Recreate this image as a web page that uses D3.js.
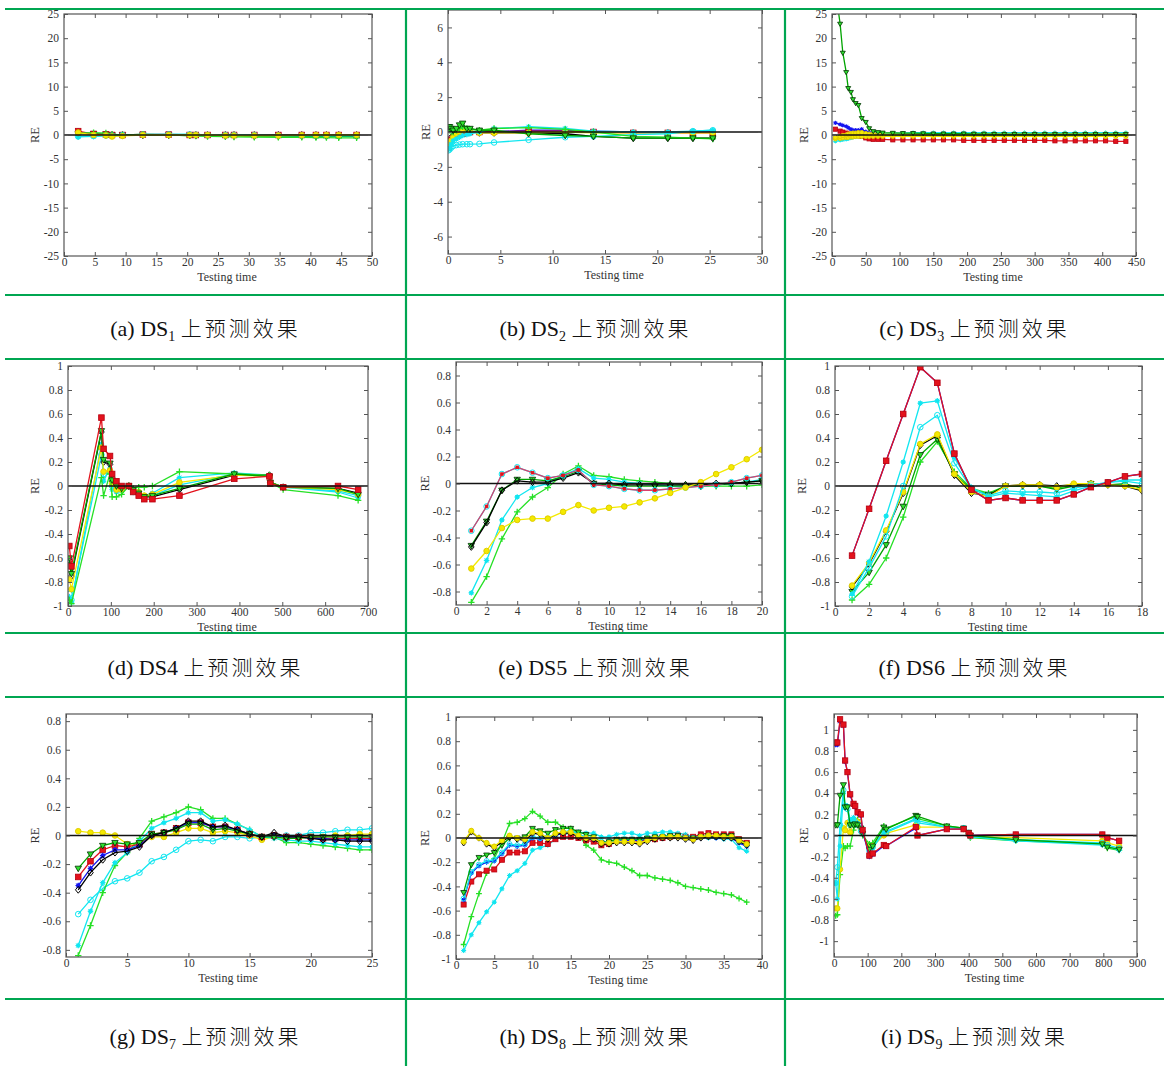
<!DOCTYPE html>
<html><head><meta charset="utf-8">
<script src="https://cdn.jsdelivr.net/npm/d3@7"></script>
<style>
html,body{margin:0;padding:0;background:#fff;}
svg{display:block;}
</style></head>
<body>
<svg id="c" width="1168" height="1066"></svg>
<script>
// ---------------- DATA ----------------
// (a) DS1
const a_x = [2.3,4.8,6.8,7.8,9.5,12.8,17.0,20.4,21.4,23.3,26.2,27.6,30.9,34.8,38.6,40.9,42.6,44.6,47.5];
const a_dkgreen = [0.3,0.3,0.2,0,0,0,0,-0.1,-0.1,-0.1,-0.2,-0.2,-0.3,-0.3,-0.3,-0.3,-0.3,-0.3,-0.3];
const a_black = [0.6,0.2,0,0,0,0,0,0,0,0,0,0,0,0,0,0,0,0,0];
const a_red = [0.8,0.2,0.1,0,0,0.1,0.1,0,0,0,0,0,0,0,0,0,0,0,0];
const a_cyano = [-0.3,-0.2,-0.1,-0.1,0,0.1,0.1,0.1,0,0,0,0,0,-0.1,-0.1,-0.1,-0.1,-0.1,-0.1];
const a_cyanstar = [-0.4,-0.3,-0.2,-0.2,-0.1,0.1,0.1,0.1,0.1,0,0,0,-0.1,-0.1,-0.1,-0.1,-0.1,-0.1,-0.1];
const a_lime = [0.4,0.5,0.4,0.1,0,0.1,0,-0.1,-0.2,-0.3,-0.35,-0.4,-0.45,-0.5,-0.5,-0.55,-0.55,-0.6,-0.6];
const a_yellow = [0.5,0,-0.1,-0.3,-0.2,0,0,0,0,0,-0.1,-0.1,-0.1,-0.1,-0.05,0,0,0,0];
const a_xticks = [0,5,10,15,20,25,30,35,40,45,50];
const a_yticks = [-25,-20,-15,-10,-5,0,5,10,15,20,25];

// (b) DS2
const b_x = [0.05,0.15,0.3,0.5,0.8,1.1,1.4,1.8,2.1,3.0,4.4,7.7,11.2,13.9,17.7,21.0,23.4,25.3];
const b_black = [-0.6,-0.5,-0.3,-0.2,-0.1,-0.05,0,0,0,-0.05,-0.05,-0.05,-0.1,-0.25,-0.35,-0.35,-0.35,-0.35];
const b_red = [-0.9,-0.6,-0.45,-0.3,-0.2,-0.15,-0.1,-0.05,0,0,0.02,0.05,0.05,0,-0.05,-0.05,-0.05,-0.05];
const b_blue = [-0.8,-0.55,-0.4,-0.25,-0.15,-0.1,-0.05,0,0,0,0.02,0.1,0.1,0.05,0,0,0,0];
const b_yellow = [-0.9,-0.7,-0.5,-0.3,-0.1,0,0.1,0.05,0,-0.05,-0.05,-0.05,0,-0.05,-0.05,-0.05,-0.05,-0.05];
const b_cyano = [-1.05,-1.0,-0.9,-0.8,-0.75,-0.72,-0.7,-0.7,-0.7,-0.68,-0.6,-0.45,-0.3,-0.25,-0.15,-0.1,0.05,0.1];
const b_cyanstar = [-1.0,-0.9,-0.7,-0.5,-0.4,-0.3,-0.2,-0.15,-0.1,0,0.2,0.3,0.2,0.05,0,0,0.05,0.1];
const b_lime = [0.2,0.1,0,0,0.1,0.2,0.3,0.2,0.15,0.1,0.2,0.25,0.15,0,-0.25,-0.3,-0.35,-0.4];
const b_dkgreen = [0.3,0.3,0.2,0.1,0.2,0.4,0.5,0.2,0.2,0.1,0.1,-0.1,-0.2,-0.25,-0.35,-0.35,-0.35,-0.35];
const b_xticks = [0,5,10,15,20,25,30];
const b_yticks = [-6,-4,-2,0,2,4,6];

// (c) DS3
const c_x = [5,12,16,21,24,28,31,35,39,44,50,55,61,68,75,90,105,120,135,150,165,180,195,210,225,240,255,270,285,300,315,330,345,360,375,390,405,420,435];
const c_red = [1.2,0.8,0.6,0.4,0.2,0.1,0,0,-0.1,-0.3,-0.6,-0.8,-0.9,-0.9,-0.9,-1,-1,-1,-1,-1,-1,-1,-1.1,-1.1,-1.1,-1.1,-1.1,-1.1,-1.1,-1.1,-1.1,-1.2,-1.2,-1.2,-1.2,-1.2,-1.2,-1.3,-1.3];
const c_blue = [2.5,2.2,2,1.8,1.5,1.2,1,1,1,1.2,0.7,0.5,0.4,0.3,0.3,0.2,0.2,0.2,0.1,0.1,0.1,0.1,0.1,0,0,0,0,0,0,0,0,0,0,0,0,0,0,0,0];
const c_lime = [-0.8,-0.7,-0.6,-0.5,-0.4,-0.4,-0.3,-0.3,-0.2,-0.2,-0.2,-0.1,-0.1,-0.1,-0.05,-0.05,-0.05,-0.05,-0.05,-0.05,-0.05,-0.05,-0.05,-0.05,-0.05,-0.05,-0.05,-0.05,-0.05,-0.05,-0.05,-0.05,-0.05,-0.05,-0.05,-0.05,-0.05,-0.05,-0.05];
const c_cyanstar = [-1.3,-1.1,-1,-0.9,-0.8,-0.6,-0.5,-0.4,-0.3,-0.3,-0.2,0,0.1,0.2,0.3,0.4,0.4,0.5,0.5,0.5,0.5,0.5,0.5,0.5,0.5,0.5,0.5,0.5,0.5,0.5,0.5,0.5,0.5,0.5,0.5,0.5,0.5,0.5,0.5];
const c_yellow2 = [-0.8,-0.7,-0.6,-0.5,-0.5,-0.4,-0.4,-0.3,-0.3,-0.3,-0.3,-0.3,-0.3,-0.3,-0.3,-0.3,-0.3,-0.3,-0.3,-0.3,-0.3,-0.3,-0.3,-0.3,-0.3,-0.3,-0.3,-0.3,-0.3,-0.3,-0.3,-0.3,-0.3,-0.3,-0.3,-0.3,-0.3,-0.3,-0.3];
const c_yellow = [-0.5,-0.3,-0.1,0,0.2,0.3,0.4,0.4,0.5,0.5,0.3,0.2,0.2,0.2,0.2,0.2,0.2,0.2,0.2,0.2,0.2,0.2,0.2,0.2,0.2,0.2,0.2,0.2,0.2,0.2,0.2,0.2,0.2,0.2,0.2,0.2,0.2,0.2,0.2];
const c_dkgreen = [30,23,17,13,9.7,8.9,7.4,6.6,6.2,3.5,2.7,1.4,0.8,0.6,0.5,0.45,0.4,0.4,0.35,0.3,0.3,0.3,0.3,0.25,0.25,0.2,0.2,0.2,0.2,0.2,0.2,0.2,0.2,0.2,0.2,0.2,0.2,0.2,0.2];
const c_xticks = [0,50,100,150,200,250,300,350,400,450];
const c_yticks = [-25,-20,-15,-10,-5,0,5,10,15,20,25];

// (d) DS4
const d_x = [3,8,78,83,98,103,113,125,142,152,165,178,197,260,388,470,472,502,630,677];
const d_cyano = [-0.9,-0.95,0.26,0.1,0.12,0,-0.02,-0.03,0,-0.05,-0.06,-0.09,-0.08,0.01,0.1,0.08,0.03,-0.01,-0.04,-0.08];
const d_cyanstar = [-0.93,-0.97,0.35,0.04,0.15,-0.03,-0.05,-0.04,0,-0.04,-0.07,-0.08,-0.06,0.07,0.11,0.09,0.03,-0.01,-0.05,-0.1];
const d_black = [-0.62,-0.75,0.45,0.2,0.18,0.04,0,-0.02,0,-0.03,-0.06,-0.09,-0.09,-0.03,0.09,0.09,0.03,-0.01,-0.02,-0.06];
const d_yellow = [-0.78,-0.86,0.32,0.12,0.13,0.02,-0.03,-0.03,0,-0.04,-0.05,-0.08,-0.07,0.03,0.09,0.08,0.03,-0.01,-0.03,-0.07];
const d_lime = [-0.95,-0.98,0.07,-0.08,0.1,-0.09,-0.09,-0.07,0,-0.02,-0.01,-0.01,0,0.12,0.1,0.09,0.03,-0.03,-0.08,-0.12];
const d_dkgreen = [-0.6,-0.73,0.46,0.22,0.19,0.05,0,-0.02,0,-0.03,-0.06,-0.09,-0.08,-0.02,0.1,0.08,0.03,-0.01,-0.02,-0.07];
const d_red = [-0.5,-0.67,0.57,0.31,0.25,0.1,0.04,0,0,-0.05,-0.08,-0.11,-0.11,-0.08,0.06,0.08,0.02,-0.01,0,-0.03];
const d_xticks = [0,100,200,300,400,500,600,700];
const d_yticks = [-1,-0.8,-0.6,-0.4,-0.2,0,0.2,0.4,0.6,0.8,1];

// (e) DS5
const e_x = [1,2,3,4,5,6,7,8,9,10,11,12,13,14,15,16,17,18,19,20];
const e_lime = [-0.88,-0.69,-0.41,-0.21,-0.1,-0.03,0.07,0.13,0.06,0.05,0.03,0.02,0.01,0,-0.01,-0.02,-0.02,-0.02,-0.02,-0.01];
const e_cyanstar = [-0.81,-0.57,-0.27,-0.1,-0.03,0,0.06,0.11,0.04,0.03,0.01,0,-0.01,-0.02,-0.02,-0.02,-0.01,0,0.01,0.03];
const e_dkgreen = [-0.46,-0.28,-0.05,0.03,0.03,0.02,0.05,0.09,0,-0.01,-0.02,-0.02,-0.02,-0.02,-0.02,-0.02,-0.01,0,0.01,0.02];
const e_black = [-0.47,-0.29,-0.05,0.02,0.01,0.01,0.04,0.08,0,0,-0.01,-0.01,-0.01,-0.01,-0.01,-0.01,0,0,0.01,0.02];
const e_cyano = [-0.35,-0.17,0.07,0.12,0.08,0.04,0.06,0.1,-0.01,-0.02,-0.04,-0.05,-0.05,-0.04,-0.03,-0.02,-0.01,0.01,0.04,0.06];
const e_red = [-0.35,-0.17,0.07,0.12,0.08,0.04,0.06,0.1,-0.01,-0.02,-0.04,-0.05,-0.05,-0.04,-0.03,-0.02,-0.01,0.01,0.04,0.06];
const e_yellow = [-0.63,-0.5,-0.33,-0.27,-0.26,-0.26,-0.21,-0.16,-0.2,-0.18,-0.17,-0.14,-0.11,-0.07,-0.03,0.01,0.07,0.12,0.18,0.25];
const e_xticks = [0,2,4,6,8,10,12,14,16,18,20];
const e_yticks = [-0.8,-0.6,-0.4,-0.2,0,0.2,0.4,0.6,0.8];

// (f) DS6
const f_x = [1,2,3,4,5,6,7,8,9,10,11,12,13,14,15,16,17,18];
const f_lime = [-0.95,-0.82,-0.6,-0.26,0.2,0.37,0.12,-0.02,-0.06,0,0,0,-0.02,0.01,0.02,0.01,0.01,-0.01];
const f_dkgreen = [-0.88,-0.72,-0.49,-0.17,0.26,0.39,0.1,-0.03,-0.07,0,0,0,-0.03,0,0.02,0.01,0.02,-0.02];
const f_black = [-0.84,-0.65,-0.38,-0.06,0.34,0.42,0.09,-0.06,-0.08,0,0.01,0.01,0,0.01,0.02,0.01,0,-0.04];
const f_yellow = [-0.83,-0.64,-0.37,-0.05,0.35,0.43,0.1,-0.05,-0.09,0,0.01,0.01,-0.01,0.02,0.02,0.01,0,-0.03];
const f_cyano = [-0.92,-0.68,-0.42,0,0.49,0.59,0.19,-0.02,-0.08,-0.04,-0.05,-0.05,-0.06,-0.02,0.01,0.03,0.04,0.02];
const f_cyanstar = [-0.9,-0.63,-0.25,0.2,0.69,0.71,0.24,-0.01,-0.09,-0.06,-0.07,-0.08,-0.09,-0.04,0,0.03,0.05,0.05];
const f_blue = [-0.58,-0.19,0.21,0.6,0.99,0.86,0.27,-0.03,-0.12,-0.1,-0.12,-0.12,-0.12,-0.07,-0.01,0.03,0.08,0.1];
const f_red = [-0.58,-0.19,0.21,0.6,0.99,0.86,0.27,-0.03,-0.12,-0.1,-0.12,-0.12,-0.12,-0.07,-0.01,0.03,0.08,0.1];
const f_xticks = [0,2,4,6,8,10,12,14,16,18];
const f_yticks = [-1,-0.8,-0.6,-0.4,-0.2,0,0.2,0.4,0.6,0.8,1];

// (g) DS7
const g_x = [1,2,3,4,5,6,7,8,9,10,11,12,13,14,15,16,17,18,19,20,21,22,23,24,25];
const g_cyano = [-0.55,-0.45,-0.37,-0.32,-0.3,-0.26,-0.18,-0.15,-0.1,-0.04,-0.03,-0.04,-0.01,-0.01,-0.02,-0.01,-0.01,0,0,0.02,0.02,0.03,0.04,0.04,0.05];
const g_yellow = [0.03,0.02,0.02,0,-0.06,-0.06,-0.01,-0.01,0.02,0.05,0.05,0.02,0.03,0.02,0,-0.03,-0.01,-0.02,-0.02,-0.01,-0.01,0,0,0.01,0.01];
const g_lime = [-0.84,-0.63,-0.4,-0.21,-0.12,-0.02,0.1,0.13,0.16,0.2,0.18,0.12,0.12,0.08,0.04,-0.01,-0.01,-0.05,-0.05,-0.06,-0.07,-0.08,-0.09,-0.1,-0.1];
const g_cyanstar = [-0.77,-0.53,-0.33,-0.19,-0.12,-0.04,0.05,0.09,0.12,0.16,0.16,0.1,0.11,0.08,0.04,-0.01,-0.02,-0.03,-0.04,-0.04,-0.05,-0.06,-0.07,-0.08,-0.08];
const g_red = [-0.29,-0.18,-0.1,-0.07,-0.08,-0.06,0.01,0.02,0.05,0.09,0.09,0.06,0.06,0.04,0.01,-0.01,0,-0.01,-0.01,-0.01,-0.02,-0.02,-0.02,-0.02,-0.02];
const g_blue = [-0.35,-0.23,-0.14,-0.1,-0.1,-0.07,0,0.02,0.05,0.09,0.09,0.06,0.06,0.04,0.01,-0.01,0,-0.01,-0.01,-0.02,-0.02,-0.03,-0.03,-0.03,-0.03];
const g_black = [-0.38,-0.26,-0.17,-0.12,-0.11,-0.08,0,0.02,0.05,0.1,0.1,0.06,0.07,0.04,0.01,-0.01,0.02,-0.01,-0.01,-0.02,-0.03,-0.03,-0.04,-0.04,-0.04];
const g_dkgreen = [-0.23,-0.13,-0.07,-0.05,-0.06,-0.05,0.01,0.02,0.04,0.08,0.08,0.04,0.05,0.03,0.01,-0.01,-0.01,-0.02,-0.02,-0.01,-0.01,-0.01,-0.01,-0.01,-0.01];
const g_xticks = [0,5,10,15,20,25];
const g_yticks = [-0.8,-0.6,-0.4,-0.2,0,0.2,0.4,0.6,0.8];

// (h) DS8
const h_x = [1,2,3,4,5,6,7,8,9,10,11,12,13,14,15,16,17,18,19,20,21,22,23,24,25,26,27,28,29,30,31,32,33,34,35,36,37,38];
const h_lime = [-0.88,-0.65,-0.46,-0.29,-0.17,-0.04,0.12,0.13,0.16,0.22,0.18,0.13,0.13,0.09,0.08,0.03,-0.06,-0.1,-0.18,-0.2,-0.21,-0.24,-0.27,-0.31,-0.31,-0.33,-0.34,-0.35,-0.37,-0.4,-0.41,-0.42,-0.43,-0.45,-0.46,-0.47,-0.5,-0.53];
const h_cyanstar = [-0.93,-0.8,-0.7,-0.61,-0.53,-0.42,-0.31,-0.27,-0.21,-0.1,-0.08,-0.06,-0.01,0.02,0.05,0.05,0.04,0.04,0.01,0.01,0.03,0.04,0.04,0.02,0.04,0.04,0.05,0.05,0.04,0.03,0.01,0.01,0,0,-0.01,-0.01,-0.08,-0.11];
const h_red = [-0.55,-0.36,-0.3,-0.27,-0.26,-0.18,-0.12,-0.12,-0.11,-0.04,-0.04,-0.05,-0.01,0.01,0.01,0,-0.02,-0.03,-0.06,-0.05,-0.02,-0.02,-0.02,-0.03,-0.01,-0.01,0,0.01,0.02,0.01,0.01,0.03,0.04,0.03,0.03,0.03,-0.01,-0.04];
const h_blue = [-0.51,-0.29,-0.23,-0.2,-0.19,-0.13,-0.06,-0.07,-0.06,0,-0.01,0,0.02,0.04,0.05,0.02,0,-0.01,-0.04,-0.04,-0.03,-0.02,-0.02,-0.02,-0.01,0,0.01,0.01,0.01,0,-0.01,0,0.01,0,0,0,-0.04,-0.07];
const h_cyano = [-0.5,-0.28,-0.22,-0.19,-0.18,-0.12,-0.05,-0.06,-0.05,0.01,0,0.01,0.03,0.05,0.06,0.03,0.01,0,-0.03,-0.03,-0.02,-0.01,-0.01,-0.01,0,0.01,0.02,0.02,0.02,0.01,0,0.01,0.02,0.01,0.01,0.01,-0.03,-0.06];
const h_dkgreen = [-0.45,-0.22,-0.16,-0.14,-0.12,-0.06,0,0,0.01,0.08,0.06,0.04,0.07,0.08,0.08,0.05,0.03,0.01,-0.04,-0.03,-0.01,-0.01,-0.01,-0.01,0,0.01,0.01,0.02,0.02,0,0,0.01,0.02,0.02,0.02,0.02,-0.01,-0.05];
const h_black = [-0.04,0.05,0,-0.05,-0.08,-0.03,0.01,-0.01,-0.02,0.04,0.03,-0.01,0.03,0.04,0.04,0.01,-0.01,-0.01,-0.05,-0.05,-0.04,-0.04,-0.04,-0.05,-0.03,-0.01,0,0,0,-0.01,-0.02,0,0.01,0.01,0,0,-0.03,-0.06];
const h_yellow = [-0.03,0.06,0,-0.04,-0.07,-0.02,0.02,0,-0.01,0.05,0.04,0,0.04,0.05,0.05,0.02,0,0,-0.04,-0.04,-0.03,-0.03,-0.03,-0.04,-0.02,0,0.01,0.01,0.01,0,-0.01,0.01,0.02,0.02,0.01,0.01,-0.02,-0.05];
const h_xticks = [0,5,10,15,20,25,30,35,40];
const h_yticks = [-1,-0.8,-0.6,-0.4,-0.2,0,0.2,0.4,0.6,0.8,1];

// (i) DS9
const i_x = [5,10,18,28,33,40,48,58,63,70,80,85,105,115,148,155,243,248,335,385,400,405,540,797,812,847];
const i_lime = [-0.76,-0.75,-0.37,-0.1,-0.12,-0.1,-0.1,0.05,0.1,0.15,0.05,0,-0.08,-0.07,0.09,0.07,0.18,0.16,0.09,0.07,0.02,-0.02,-0.05,-0.08,-0.12,-0.14];
const i_yellow = [-0.69,-0.69,-0.32,0.07,0.05,0.12,0.03,0.13,0.14,0.13,0.06,0.02,-0.12,-0.1,0,0.02,0.1,0.08,0.08,0.06,0.02,-0.01,-0.02,-0.05,-0.07,-0.1];
const i_cyano = [-0.45,-0.3,0.1,0.43,0.28,0.25,0.1,0.15,0.13,0.1,0.04,0.02,-0.14,-0.11,0.04,0.03,0.15,0.12,0.08,0.07,0.02,-0.01,-0.04,-0.07,-0.09,-0.12];
const i_cyanstar = [-0.45,-0.6,-0.1,0.4,0.26,0.28,0.15,0.17,0.12,0.12,0.05,0.03,-0.15,-0.12,0.03,0.04,0.16,0.14,0.08,0.07,0.03,-0.01,-0.05,-0.09,-0.1,-0.14];
const i_dkgreen = [0.1,0.1,0.38,0.48,0.27,0.27,0.1,0.1,0.11,0.1,0.07,0.02,-0.13,-0.1,0.08,0.06,0.19,0.18,0.09,0.07,0.03,0,-0.04,-0.08,-0.11,-0.13];
const i_blue = [0.86,0.86,1.08,1.04,0.7,0.6,0.38,0.29,0.27,0.21,0.19,0.04,-0.2,-0.18,-0.1,-0.1,0.07,0,0.06,0.06,0.02,0,0.01,0.01,-0.02,-0.05];
const i_red = [0.88,0.88,1.1,1.05,0.71,0.6,0.39,0.3,0.28,0.22,0.2,0.05,-0.19,-0.17,-0.09,-0.1,0.08,0,0.06,0.06,0.02,0,0.01,0.01,-0.02,-0.05];
const i_xticks = [0,100,200,300,400,500,600,700,800,900];
const i_yticks = [-1,-0.8,-0.6,-0.4,-0.2,0,0.2,0.4,0.6,0.8,1];

// captions
const cap_letters = ["a","b","c","d","e","f","g","h","i"];
const cap_nums = ["1","2","3","4","5","6","7","8","9"];
const cap_sub = [true,true,true,false,false,false,true,true,true];
const cap_tail = "上预测效果";

// ---------------- STYLE ----------------
const STY = {
  red:      {stroke:'#e3121c', marker:'square',  fill:'#e3121c', ms:'#b80010'},
  redpink:  {stroke:'#d8406e', marker:'square',  fill:'#e3121c', ms:'#e3121c', size:1.3},
  blue:     {stroke:'#1414f0', marker:'star',    fill:'#1414f0', ms:'#1414f0'},
  black:    {stroke:'#000000', marker:'diamond', fill:'none',    ms:'#000'},
  dkgreen:  {stroke:'#00a400', marker:'tridown', fill:'#2ee02e', ms:'#003000'},
  lime:     {stroke:'#25e025', marker:'plus',    fill:'none',    ms:'#25e025'},
  cyanstar: {stroke:'#12e6f0', marker:'star',    fill:'#12e6f0', ms:'#12e6f0'},
  cyano:    {stroke:'#12e6f0', marker:'circle',  fill:'none',    ms:'#12e6f0'},
  yellow:   {stroke:'#f4ea00', marker:'circle',  fill:'#f4ea00', ms:'#e0cc00'},
  yellow2:  {stroke:'#f4ea00', marker:'circle',  fill:'#f4ea00', ms:'#e0cc00'}
};

const panels = [
  {box:[64,14,372,256],  xd:[0,50],  yd:[-25,25],   xt:a_xticks, yt:a_yticks, re:29, mk:1,
   series:[['dkgreen',a_x,a_dkgreen],['black',a_x,a_black],['red',a_x,a_red],['cyano',a_x,a_cyano],['cyanstar',a_x,a_cyanstar],['lime',a_x,a_lime],['yellow',a_x,a_yellow]]},
  {box:[448,10,762,254], xd:[0,30],  yd:[-7,7],     xt:b_xticks, yt:b_yticks, re:22, mk:1,
   series:[['black',b_x,b_black],['blue',b_x,b_blue],['red',b_x,b_red],['yellow',b_x,b_yellow],['cyano',b_x,b_cyano],['cyanstar',b_x,b_cyanstar],['lime',b_x,b_lime],['dkgreen',b_x,b_dkgreen]]},
  {box:[832,14,1136,256],xd:[0,450], yd:[-25,25],   xt:c_xticks, yt:c_yticks, re:28, mk:0.75,
   series:[['red',c_x,c_red],['blue',c_x,c_blue],['lime',c_x,c_lime],['cyanstar',c_x,c_cyanstar],['yellow2',c_x,c_yellow2],['yellow',c_x,c_yellow],['dkgreen',c_x,c_dkgreen]]},
  {box:[68,366,368,606], xd:[0,700], yd:[-1,1],     xt:d_xticks, yt:d_yticks, re:33, mk:1,
   series:[['cyano',d_x,d_cyano],['cyanstar',d_x,d_cyanstar],['black',d_x,d_black],['yellow',d_x,d_yellow],['lime',d_x,d_lime],['dkgreen',d_x,d_dkgreen],['red',d_x,d_red]]},
  {box:[456,362,762,605],xd:[0,20],  yd:[-0.9,0.9], xt:e_xticks, yt:e_yticks, re:31, mk:1,
   series:[['lime',e_x,e_lime],['cyanstar',e_x,e_cyanstar],['dkgreen',e_x,e_dkgreen],['black',e_x,e_black],['cyano',e_x,e_cyano],['redpink',e_x,e_red],['yellow',e_x,e_yellow]]},
  {box:[835,366,1142,606],xd:[0,18], yd:[-1,1],     xt:f_xticks, yt:f_yticks, re:33, mk:1,
   series:[['lime',f_x,f_lime],['dkgreen',f_x,f_dkgreen],['black',f_x,f_black],['yellow',f_x,f_yellow],['cyano',f_x,f_cyano],['cyanstar',f_x,f_cyanstar],['blue',f_x,f_blue],['red',f_x,f_red]]},
  {box:[66,714,372,957], xd:[0,25],  yd:[-0.85,0.85],xt:g_xticks, yt:g_yticks, re:31, mk:1,
   series:[['cyano',g_x,g_cyano],['yellow',g_x,g_yellow],['lime',g_x,g_lime],['cyanstar',g_x,g_cyanstar],['red',g_x,g_red],['blue',g_x,g_blue],['dkgreen',g_x,g_dkgreen],['black',g_x,g_black]]},
  {box:[456,717,762,959],xd:[0,40],  yd:[-1,1],     xt:h_xticks, yt:h_yticks, re:31, mk:0.9,
   series:[['lime',h_x,h_lime],['cyanstar',h_x,h_cyanstar],['red',h_x,h_red],['blue',h_x,h_blue],['cyano',h_x,h_cyano],['dkgreen',h_x,h_dkgreen],['black',h_x,h_black],['yellow',h_x,h_yellow]]},
  {box:[834,714,1137,957],xd:[0,900],yd:[-1.15,1.15],xt:i_xticks, yt:i_yticks, re:30, mk:0.95,
   series:[['lime',i_x,i_lime],['yellow',i_x,i_yellow],['cyano',i_x,i_cyano],['cyanstar',i_x,i_cyanstar],['dkgreen',i_x,i_dkgreen],['blue',i_x,i_blue],['red',i_x,i_red]]}
];

const SERIF = '"Liberation Serif","Times New Roman",Times,serif';
const svg = d3.select('#c');
const defs = svg.append('defs');

function drawMarker(g, st, cx, cy, mk) {
  const s = (st.size || 2.8) * mk;
  const t = 2 * mk;
  switch (st.marker) {
    case 'square':
      g.append('rect').attr('x',cx-s).attr('y',cy-s).attr('width',2*s).attr('height',2*s)
        .attr('fill',st.fill).attr('stroke',st.ms).attr('stroke-width',0.8); break;
    case 'circle':
      g.append('circle').attr('cx',cx).attr('cy',cy).attr('r',s)
        .attr('fill',st.fill).attr('stroke',st.ms).attr('stroke-width',1); break;
    case 'diamond':
      g.append('path').attr('d',`M${cx},${cy-s-0.6}L${cx+s},${cy}L${cx},${cy+s+0.6}L${cx-s},${cy}Z`)
        .attr('fill',st.fill).attr('stroke',st.ms).attr('stroke-width',1); break;
    case 'tridown':
      g.append('path').attr('d',`M${cx-s-0.4},${cy-s+0.6}L${cx+s+0.4},${cy-s+0.6}L${cx},${cy+s+0.6}Z`)
        .attr('fill',st.fill).attr('stroke',st.ms).attr('stroke-width',0.8); break;
    case 'plus':
      g.append('path').attr('d',`M${cx-s-0.4},${cy}H${cx+s+0.4}M${cx},${cy-s-0.4}V${cy+s+0.4}`)
        .attr('fill','none').attr('stroke',st.ms).attr('stroke-width',1.3); break;
    case 'star':
      g.append('circle').attr('cx',cx).attr('cy',cy).attr('r',2.2*mk).attr('fill',st.fill);
      g.append('path').attr('d',`M${cx-s},${cy}H${cx+s}M${cx},${cy-s}V${cy+s}M${cx-t},${cy-t}L${cx+t},${cy+t}M${cx-t},${cy+t}L${cx+t},${cy-t}`)
        .attr('fill','none').attr('stroke',st.ms).attr('stroke-width',1); break;
  }
}

const fmt = v => String(+v.toFixed(2));

panels.forEach((p, k) => {
  const [x0,y0,x1,y1] = p.box;
  const x = d3.scaleLinear().domain(p.xd).range([x0,x1]);
  const y = d3.scaleLinear().domain(p.yd).range([y1,y0]);
  const g = svg.append('g');
  defs.append('clipPath').attr('id','clip'+k).append('rect')
    .attr('x',x0).attr('y',y0).attr('width',x1-x0).attr('height',y1-y0);
  const gc = g.append('g').attr('clip-path',`url(#clip${k})`);
  const line = d3.line().x(d=>x(d[0])).y(d=>y(d[1]));
  p.series.forEach(([name, xs, ys]) => {
    const st = STY[name];
    const n = Math.min(xs.length, ys.length);
    const pts = d3.range(n).map(i => [xs[i], ys[i]]);
    gc.append('path').attr('d', line(pts)).attr('fill','none')
      .attr('stroke', st.stroke).attr('stroke-width', 1.3).attr('stroke-linejoin','round');
    pts.forEach(d => drawMarker(gc, st, x(d[0]), y(d[1]), p.mk));
  });
  // zero line
  g.append('line').attr('x1',x0).attr('x2',x1).attr('y1',y(0)).attr('y2',y(0))
    .attr('stroke','#111').attr('stroke-width',1.3);

  // axes with inward ticks
  const styleAxis = sel => {
    sel.select('.domain').remove();
    sel.selectAll('.tick line').attr('stroke','#555').attr('stroke-width',1);
    sel.selectAll('.tick text').attr('fill','#333').style('font-family',SERIF).style('font-size','11.5px');
  };
  g.append('g').attr('transform',`translate(0,${y1})`)
    .call(d3.axisBottom(x).tickValues(p.xt).tickSize(-4).tickPadding(2).tickFormat(fmt)).call(styleAxis);
  g.append('g').attr('transform',`translate(0,${y0})`)
    .call(d3.axisTop(x).tickValues(p.xt).tickSize(-4).tickFormat('')).call(styleAxis);
  g.append('g').attr('transform',`translate(${x0},0)`)
    .call(d3.axisLeft(y).tickValues(p.yt).tickSize(-4).tickPadding(5).tickFormat(fmt)).call(styleAxis);
  g.append('g').attr('transform',`translate(${x1},0)`)
    .call(d3.axisRight(y).tickValues(p.yt).tickSize(-4).tickFormat('')).call(styleAxis);
  g.selectAll('text').attr('font-family',SERIF);

  // box
  g.append('rect').attr('x',x0).attr('y',y0).attr('width',x1-x0).attr('height',y1-y0)
    .attr('fill','none').attr('stroke','#555').attr('stroke-width',1.2);

  // labels
  g.append('text').attr('transform',`translate(${x0-p.re},${(y0+y1)/2}) rotate(-90)`)
    .attr('text-anchor','middle').attr('dy','0.35em')
    .style('font-family',SERIF).style('font-size','12.5px').attr('fill','#333').text('RE');
  g.append('text').attr('x',(x0+x1)/2+9).attr('y',y1+25)
    .attr('text-anchor','middle')
    .style('font-family',SERIF).style('font-size','12px').attr('fill','#333').text('Testing time');
});

// ---------------- TABLE GRID ----------------
const GREEN = '#00a651';
const hLines = [9, 295, 359, 633, 697, 999];
hLines.forEach(yy => svg.append('line').attr('x1',5).attr('x2',1164).attr('y1',yy).attr('y2',yy)
  .attr('stroke',GREEN).attr('stroke-width',2.2));
[406, 785].forEach(xx => svg.append('line').attr('x1',xx).attr('x2',xx).attr('y1',8).attr('y2',1066)
  .attr('stroke',GREEN).attr('stroke-width',2.2));

// captions
const capCx = [205.5, 595.5, 974.5];
const capY = [336, 675, 1044];
cap_letters.forEach((L, k) => {
  const t = svg.append('text').attr('x', capCx[k%3]).attr('y', capY[Math.floor(k/3)])
    .attr('text-anchor','middle').style('font-family', SERIF + ',"Noto Sans CJK SC"')
    .style('font-size','22px').attr('fill','#111');
  t.append('tspan').text(`(${L}) DS`);
  if (cap_sub[k]) {
    t.append('tspan').attr('dy',5).style('font-size','14px').text(cap_nums[k]);
    t.append('tspan').attr('dy',-5).text(' ');
  } else {
    t.append('tspan').text(cap_nums[k] + ' ');
  }
  t.append('tspan').style('font-family','"Noto Sans CJK SC"').style('font-size','21px')
    .style('font-weight','300').attr('letter-spacing','3px').text(cap_tail);
});
</script>
</body></html>
